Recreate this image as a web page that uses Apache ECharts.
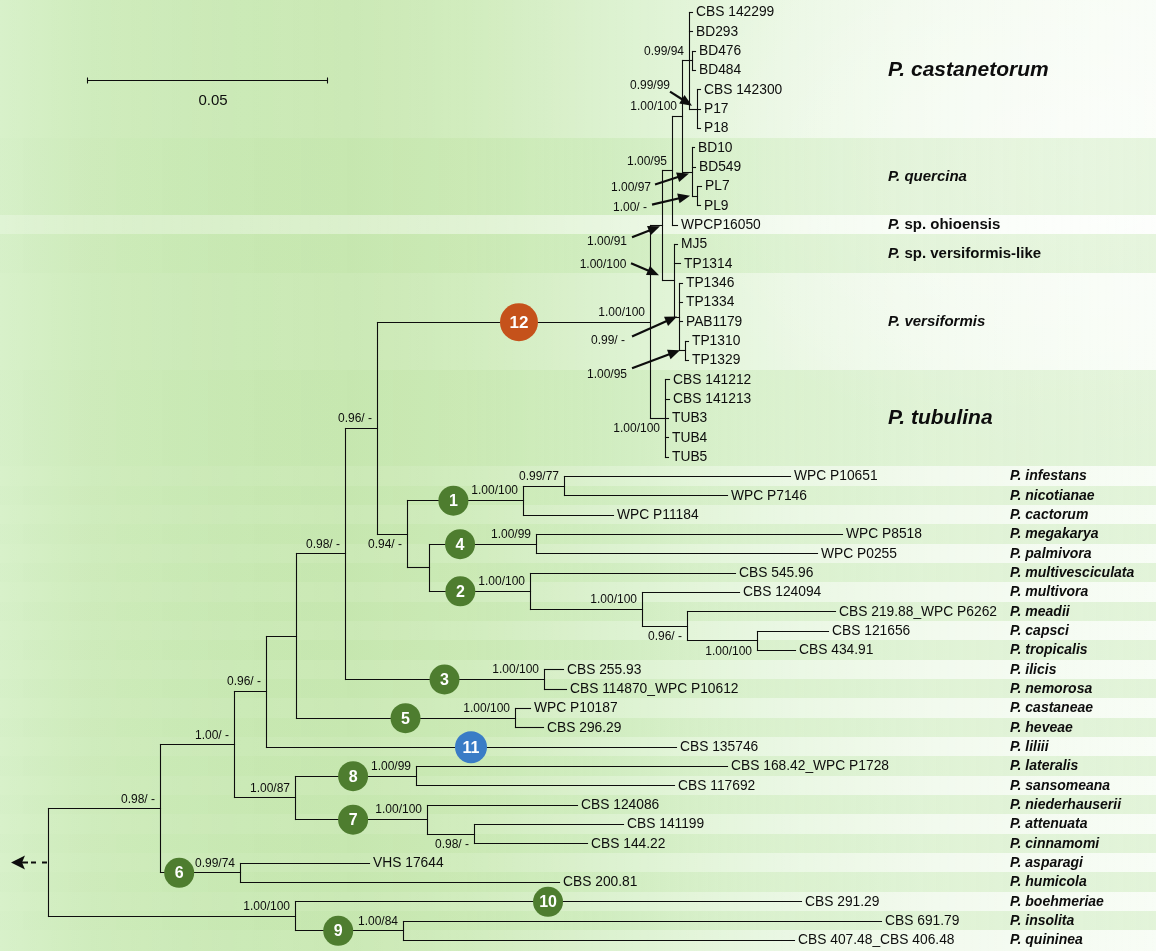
<!DOCTYPE html>
<html>
<head>
<meta charset="utf-8">
<title>Phytophthora phylogeny</title>
<script src="https://cdn.jsdelivr.net/npm/echarts@6.0.0/dist/echarts.min.js"></script>
<style>
html,body{margin:0;padding:0;}
#chart{width:1156px;height:951px;
background:
 radial-gradient(ellipse 420px 300px at 1080px 160px, rgba(255,255,255,0.5), rgba(255,255,255,0) 100%),
 linear-gradient(to right,#d8f1ca 0%,#cfecbc 8%,#c9e9b4 20%,#c8e8b1 30%,#cdebb8 42%,#d7f0c9 55%,#e3f5da 68%,#ecf8e6 82%,#f2fbee 100%);}
</style>
</head>
<body>
<div id="chart"></div>
<script>
// ================= DATA =================
const tipNames = ['CBS 142299','BD293','BD476','BD484','CBS 142300','P17','P18','BD10','BD549','PL7','PL9',
  'WPCP16050','MJ5','TP1314','TP1346','TP1334','PAB1179','TP1310','TP1329','CBS 141212','CBS 141213','TUB3','TUB4','TUB5',
  'WPC P10651','WPC P7146','WPC P11184','WPC P8518','WPC P0255','CBS 545.96','CBS 124094','CBS 219.88_WPC P6262',
  'CBS 121656','CBS 434.91','CBS 255.93','CBS 114870_WPC P10612','WPC P10187','CBS 296.29','CBS 135746',
  'CBS 168.42_WPC P1728','CBS 117692','CBS 124086','CBS 141199','CBS 144.22','VHS 17644','CBS 200.81','CBS 291.29',
  'CBS 691.79','CBS 407.48_CBS 406.48'];
// cumulative distance from the root (substitutions/site)
const tipDepth = [0.13417,0.13417,0.13479,0.13479,0.13583,0.13583,0.13583,0.13458,0.13479,0.13604,0.13583,
  0.13104,0.13104,0.13167,0.13208,0.13208,0.13208,0.13333,0.13333,0.12938,0.12938,0.12917,0.12917,0.12917,
  0.15458,0.14146,0.11771,0.16542,0.16021,0.14313,0.14396,0.16396,0.1625,0.15563,0.10729,0.10792,0.10042,0.10313,
  0.13083,0.14146,0.13042,0.11021,0.11979,0.11229,0.06688,0.10646,0.15688,0.17354,0.15542];
const nodeIds = ['root','A','B','C','D','E','F','G','H','C1','I','C4','C2','J','K','L','C3','C5','M','C8','C7','N',
  'C6','N910','C9','C12','Y','N95','Cas','T','Q','U','Qc','PL','VL','V','W','TUBn'];
const nodeDepth = [0,0.02333,0.03875,0.04542,0.05167,0.06188,0.06854,0.07479,0.07938,0.09896,0.1075,0.10167,
  0.10042,0.12375,0.13313,0.14771,0.10333,0.09729,0.05146,0.07667,0.07896,0.08875,0.04,0.05146,0.07396,
  0.12542,0.12792,0.13,0.13208,0.13354,0.13417,0.13521,0.13417,0.13521,0.13042,0.13146,0.13271,0.12854];
const nodeSupport = ['','0.98/ -','1.00/ -','0.96/ -','','0.98/ -','0.96/ -','0.94/ -','','1.00/100','0.99/77',
  '1.00/99','1.00/100','1.00/100','0.96/ -','1.00/100','1.00/100','1.00/100','1.00/87','1.00/99','1.00/100','0.98/ -',
  '0.99/74','1.00/100','1.00/84','1.00/100','1.00/91','1.00/95','1.00/100','0.99/94','','0.99/99','1.00/97','1.00/ -',
  '1.00/100','0.99/ -','1.00/95','1.00/100'];
const nodeChildren = [['A','N910'],['B','C6'],['C','M'],['D','t38'],['E','C5'],['F','C3'],['C12','G'],['C1','H'],
  ['C4','C2'],['I','t26'],['t24','t25'],['t27','t28'],['t29','J'],['t30','K'],['t31','L'],['t32','t33'],['t34','t35'],
  ['t36','t37'],['C8','C7'],['t39','t40'],['t41','N'],['t42','t43'],['t44','t45'],['t46','C9'],['t47','t48'],
  ['Y','TUBn'],['N95','VL'],['Cas','t11'],['T','Qc'],['t0','t1','Q','U'],['t2','t3'],['t4','t5','t6'],
  ['t7','t8','PL'],['t9','t10'],['t12','t13','V'],['t14','t15','t16','W'],['t17','t18'],['t19','t20','t21','t22','t23']];
const lowerSpecies = ['infestans','nicotianae','cactorum','megakarya','palmivora','multivesciculata','multivora',
  'meadii','capsci','tropicalis','ilicis','nemorosa','castaneae','heveae','liliii','lateralis','sansomeana',
  'niederhauserii','attenuata','cinnamomi','asparagi','humicola','boehmeriae','insolita','quininea'];
const lowerFirstRow = 24;
const groupNames = ['castanetorum','quercina','sp. ohioensis','sp. versiformis-like','versiformis','tubulina'];
const groupFirstRow = [0,7,11,12,14,19];
const groupLastRow = [6,10,11,13,18,23];
const cladeNumbers = [12,1,4,2,3,5,11,8,7,6,10,9];
const cladeBranches = ['C12','C1','C4','C2','C3','C5','t38','C8','C7','C6','t46','C9'];
const scaleBarLength = 0.05;

// ================= STYLE / LAYOUT =================
const FONT = '"Liberation Sans", Arial, Helvetica, sans-serif';
const INK = '#0d0d0d';
const layout = {
  tipGap: 4, tipFont: 13.8, supDx: -5, supAboveDy: -9, supBelowDy: 11,
  groupX: 888, speciesX: 1010,
  scaleStart: 0.008125, scaleY: 80, scaleLabelDy: 20,
  groupFont: {castanetorum:21, quercina:15, 'sp. ohioensis':15, 'sp. versiformis-like':15, versiformis:15, tubulina:21},
  groupStripe: ['light','dark','white','dark','light','dark'],
  cladeColor: {12:'#c5521b', 11:'#3a7cc6'}, cladeGreen:'#4e7d2f',
  cladeR: {12:19, 11:16}, cladeRDefault:15,
  cladeFrac: {12:0.52,1:0.4,4:0.29,2:0.31,3:0.5,5:0.5,11:0.5,8:0.48,7:0.44,6:0.24,10:0.5,9:0.4}
};
const belowSupport = ['G','K','L','N','TUBn'];
const arrowSupport = {
  U:  {label:[-47,-23], from:[-27,-17], to:[-5,-3]},
  Qc: {label:[-61,16], from:[-37,13], to:[-3,2]},
  PL: {label:[-67,12], from:[-45,9], to:[-7,0]},
  Y:  {label:[-55,16], from:[-30,12], to:[-2,1]},
  VL: {label:[-71,-16], from:[-43,-17], to:[-15,-5]},
  V:  {label:[-71,24], from:[-47,20], to:[-2,0]},
  W:  {label:[-78,24], from:[-53,18], to:[-5,0]}
};

// ================= TREE LAYOUT =================
const nodeIndex = {}; nodeIds.forEach((id,i)=>nodeIndex[id]=i);
const pos = {}; const parentOf = {};
tipNames.forEach((n,i)=>{ pos['t'+i] = {x: tipDepth[i], y: i}; });
function place(id){
  if (pos[id]) return pos[id];
  const i = nodeIndex[id];
  const kids = nodeChildren[i].map(k=>{ parentOf[k] = id; return place(k); });
  pos[id] = {x: nodeDepth[i], y: (kids[0].y + kids[kids.length-1].y)/2};
  return pos[id];
}
place('root');

const segs = [];
nodeIds.forEach((id,i)=>{
  const p = pos[id]; const kids = nodeChildren[i].map(k=>pos[k]);
  segs.push([p.x, kids[0].y, p.x, kids[kids.length-1].y]);
  kids.forEach(k=>segs.push([p.x, k.y, k.x, k.y]));
});

const bands = [];
groupNames.forEach((g,i)=>bands.push([groupFirstRow[i]-0.5, groupLastRow[i]+0.5, layout.groupStripe[i]]));
lowerSpecies.forEach((s,k)=>{ const r = lowerFirstRow+k; bands.push([r-0.5, r+0.5, k%2===0?'light':'dark']); });
bands[0][0] = -1; bands[bands.length-1][1] = 49;

const supItems = [];
nodeIds.forEach((id,i)=>{ if (nodeSupport[i]) supItems.push(id); });

const chart = echarts.init(document.getElementById('chart'), null, {renderer:'canvas'});
const rp = v => Math.round(v) + 0.5;

function stripeFill(kind){
  const s = {
    light:[[0,'rgba(255,255,255,0.0)'],[0.35,'rgba(255,255,255,0.08)'],[0.7,'rgba(255,255,255,0.28)'],[1,'rgba(255,255,255,0.45)']],
    white:[[0,'rgba(255,255,255,0.22)'],[0.5,'rgba(255,255,255,0.45)'],[1,'rgba(255,255,255,0.7)']],
    dark:[[0,'rgba(185,225,160,0.04)'],[0.4,'rgba(185,225,160,0.08)'],[0.7,'rgba(190,228,168,0.22)'],[1,'rgba(195,230,175,0.32)']]
  }[kind];
  return new echarts.graphic.LinearGradient(0,0,1,0, s.map(c=>({offset:c[0], color:c[1]})));
}

const base = {type:'custom', coordinateSystem:'cartesian2d', silent:true, clip:false, animation:false};

const option = {
  animation:false,
  grid:{left:0,right:0,top:12,bottom:11},
  xAxis:{type:'value',min:-0.01,max:0.23083,show:false},
  yAxis:{type:'value',min:0,max:48,inverse:true,show:false},
  series:[
    Object.assign({}, base, { z:1, data: bands.map(b=>[0,b[0],0,b[1]]),
      renderItem:(params, api)=>{
        const b = bands[params.dataIndex];
        const a = api.coord([0,b[0]]), c = api.coord([0,b[1]]);
        return {type:'rect', shape:{x:0, y:Math.round(a[1]), width:api.getWidth(), height:Math.round(c[1])-Math.round(a[1])},
          style:{fill: stripeFill(b[2])}};
      }}),
    Object.assign({}, base, { z:3, data: segs,
      renderItem:(params, api)=>{
        const a = api.coord([api.value(0), api.value(1)]);
        const b = api.coord([api.value(2), api.value(3)]);
        return {type:'line', shape:{x1:rp(a[0]),y1:rp(a[1]),x2:rp(b[0]),y2:rp(b[1])},
          style:{stroke:INK, lineWidth:1.1, lineCap:'square'}};
      }}),
    Object.assign({}, base, { z:4, data: tipNames.map((n,i)=>[tipDepth[i], i]),
      renderItem:(params, api)=>{
        const p = api.coord([api.value(0), api.value(1)]);
        return {type:'text', x:p[0]+layout.tipGap, y:p[1]+0.5,
          style:{text: tipNames[params.dataIndex], fill:INK, fontSize:layout.tipFont, fontFamily:FONT, align:'left', verticalAlign:'middle'}};
      }}),
    Object.assign({}, base, { z:4, data: supItems.map(id=>[pos[id].x, pos[id].y]),
      renderItem:(params, api)=>{
        const id = supItems[params.dataIndex];
        const txt = nodeSupport[nodeIndex[id]];
        const p = api.coord([api.value(0), api.value(1)]);
        const st = {fill:INK, fontSize:12, fontFamily:FONT, verticalAlign:'middle'};
        if (arrowSupport[id]) {
          const A = arrowSupport[id];
          const x0 = p[0]+A.from[0], y0 = p[1]+A.from[1], x1 = p[0]+A.to[0], y1 = p[1]+A.to[1];
          const ang = Math.atan2(y1-y0, x1-x0), L = 12, W = 5;
          const bx = x1 - L*Math.cos(ang), by = y1 - L*Math.sin(ang);
          const nx = -Math.sin(ang), ny = Math.cos(ang);
          return {type:'group', children:[
            {type:'text', x:p[0]+A.label[0], y:p[1]+A.label[1], style:Object.assign({text:txt, align:'center'}, st)},
            {type:'line', shape:{x1:x0,y1:y0,x2:bx+Math.cos(ang)*2,y2:by+Math.sin(ang)*2}, style:{stroke:INK, lineWidth:2.2}},
            {type:'polygon', shape:{points:[[x1,y1],[bx+nx*W,by+ny*W],[bx-nx*W,by-ny*W]]}, style:{fill:INK}}
          ]};
        }
        const below = belowSupport.indexOf(id) >= 0;
        return {type:'text', x:p[0]+layout.supDx, y:p[1]+(below?layout.supBelowDy:layout.supAboveDy),
          style:Object.assign({text:txt, align:'right'}, st)};
      }}),
    Object.assign({}, base, { z:5, data: cladeBranches.map(b=>{
        const c = pos[b], pa = pos[parentOf[b]]; return [pa.x, c.x, c.y]; }),
      renderItem:(params, api)=>{
        const num = cladeNumbers[params.dataIndex];
        const f = layout.cladeFrac[num];
        const x = api.value(0) + f*(api.value(1)-api.value(0));
        const p = api.coord([x, api.value(2)]);
        const r = layout.cladeR[num] || layout.cladeRDefault;
        return {type:'group', children:[
          {type:'circle', shape:{cx:p[0], cy:p[1]+0.5, r:r}, style:{fill: layout.cladeColor[num] || layout.cladeGreen}},
          {type:'text', x:p[0], y:p[1]+1.5, style:{text:String(num), fill:'#fff', fontSize:num===12?17:16, fontWeight:'bold', fontFamily:FONT, align:'center', verticalAlign:'middle'}}
        ]};
      }}),
    Object.assign({}, base, { z:4,
      data: groupNames.map((g,i)=>[0,(groupFirstRow[i]+groupLastRow[i])/2]).concat(lowerSpecies.map((s,k)=>[0, lowerFirstRow+k])),
      renderItem:(params, api)=>{
        const k = params.dataIndex; const p = api.coord([0, api.value(1)]);
        let text, size, x;
        if (k < groupNames.length) {
          const g = groupNames[k]; size = layout.groupFont[g]; x = layout.groupX;
          text = g.indexOf('sp.')===0 ? '{i|P.}{b| '+g+'}' : '{i|P. '+g+'}';
        } else {
          size = 14; x = layout.speciesX; text = '{i|P. '+lowerSpecies[k-groupNames.length]+'}';
        }
        return {type:'text', x:x, y:p[1]+0.5, style:{text:text, fill:INK, fontSize:size, fontFamily:FONT, verticalAlign:'middle', align:'left',
          rich:{i:{fontStyle:'italic', fontWeight:'bold', fontSize:size, fontFamily:FONT, fill:INK},
                b:{fontWeight:'bold', fontSize:size, fontFamily:FONT, fill:INK}}}};
      }}),
    Object.assign({}, base, { z:4, data: [[0, pos.root.y]],
      renderItem:(params, api)=>{
        const r = api.coord([0, api.value(1)]);
        const s0 = api.coord([layout.scaleStart, 0]), s1 = api.coord([layout.scaleStart+scaleBarLength, 0]);
        const y = rp(r[1]), sy = layout.scaleY + 0.5;
        const rx = r[0];
        return {type:'group', children:[
          {type:'polygon', shape:{points:[[rx-37,y],[rx-23,y-7],[rx-26,y],[rx-23,y+7]]}, style:{fill:INK}},
          {type:'line', shape:{x1:rx-27,y1:y,x2:rx-20,y2:y}, style:{stroke:INK, lineWidth:2}},
          {type:'line', shape:{x1:rx-17,y1:y,x2:rx-12,y2:y}, style:{stroke:INK, lineWidth:2}},
          {type:'line', shape:{x1:rx-6,y1:y,x2:rx-1,y2:y}, style:{stroke:INK, lineWidth:2}},
          {type:'line', shape:{x1:rp(s0[0]),y1:sy,x2:rp(s1[0]),y2:sy}, style:{stroke:INK, lineWidth:1.1}},
          {type:'line', shape:{x1:rp(s0[0]),y1:sy-3,x2:rp(s0[0]),y2:sy+3}, style:{stroke:INK, lineWidth:1.1}},
          {type:'line', shape:{x1:rp(s1[0]),y1:sy-3,x2:rp(s1[0]),y2:sy+3}, style:{stroke:INK, lineWidth:1.1}},
          {type:'text', x:(s0[0]+s1[0])/2+6, y:sy+layout.scaleLabelDy, style:{text:String(scaleBarLength), fill:INK, fontSize:15, fontFamily:FONT, align:'center', verticalAlign:'middle'}}
        ]};
      }})
  ]
};
chart.setOption(option);
</script>
</body>
</html>
